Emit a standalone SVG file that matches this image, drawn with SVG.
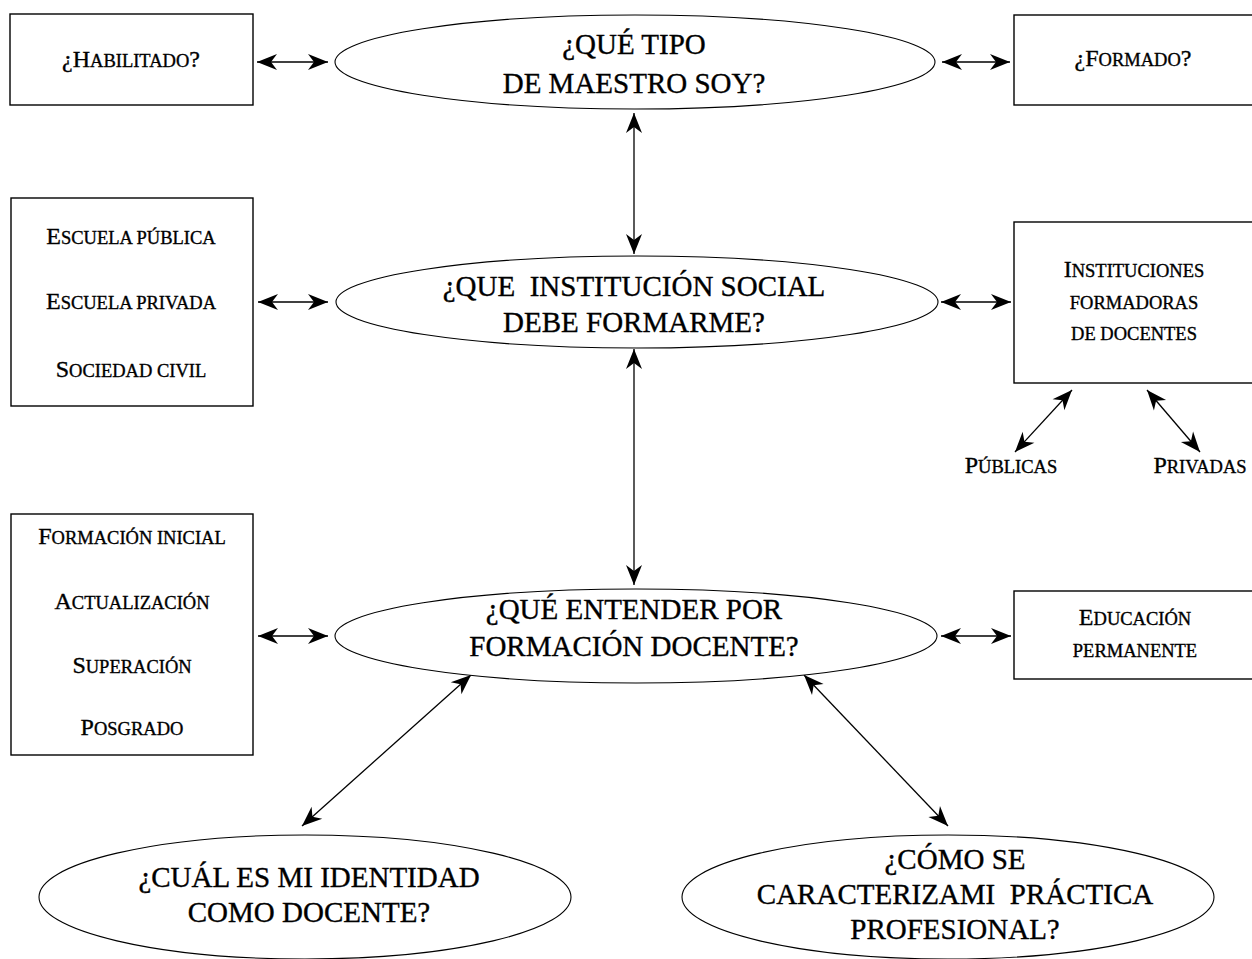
<svg xmlns="http://www.w3.org/2000/svg" width="1252" height="959" viewBox="0 0 1252 959">
<style>
text{font-family:"Liberation Serif","Times New Roman",serif;fill:#000;text-anchor:middle;white-space:pre;stroke:#000;stroke-width:0.35}
.q{font-size:29px}
.s{font-size:24px}
.s tspan.m{font-size:18.5px}
.box{fill:#fff;stroke:#000;stroke-width:1.4}
.ell{fill:#fff;stroke:#000;stroke-width:1.1}
.con line{stroke:#000;stroke-width:1.3;marker-start:url(#ah);marker-end:url(#ah)}
</style>
<defs>
<marker id="ah" viewBox="-21 -9 22 18" refX="0" refY="0" markerWidth="22" markerHeight="18" markerUnits="userSpaceOnUse" orient="auto-start-reverse">
<path d="M0,0 L-20,-8 L-14,0 L-20,8 Z" fill="#000"/>
</marker>
</defs>
<rect width="1252" height="959" fill="#fff"/>

<g class="con" id="connectors">
<line x1="257" y1="62" x2="328" y2="62"/>
<line x1="942" y1="62" x2="1010" y2="62"/>
<line x1="634" y1="113" x2="634" y2="254"/>
<line x1="258" y1="302" x2="328" y2="302"/>
<line x1="941" y1="302" x2="1011" y2="302"/>
<line x1="634" y1="349" x2="634" y2="585"/>
<line x1="1072" y1="390" x2="1015" y2="452"/>
<line x1="1147" y1="390" x2="1200" y2="452"/>
<line x1="258" y1="636" x2="328" y2="636"/>
<line x1="941" y1="636" x2="1011" y2="636"/>
<line x1="471" y1="675" x2="302" y2="826"/>
<line x1="804" y1="675" x2="948" y2="826"/>
</g>

<g id="habilitado">
<rect class="box" x="10" y="14" width="243" height="91"/>
<text class="s" x="131" y="67">¿H<tspan class="m">ABILITADO</tspan>?</text>
</g>

<g id="tipo-maestro">
<ellipse class="ell" cx="635" cy="62" rx="300" ry="47"/>
<text class="q" x="634" y="54">¿QUÉ TIPO</text>
<text class="q" x="634" y="93">DE MAESTRO SOY?</text>
</g>

<g id="formado">
<rect class="box" x="1014" y="15" width="250" height="90"/>
<text class="s" x="1133" y="66">¿F<tspan class="m">ORMADO</tspan>?</text>
</g>

<g id="escuelas">
<rect class="box" x="11" y="198" width="242" height="208"/>
<text class="s" x="131" y="244">E<tspan class="m">SCUELA PÚBLICA</tspan></text>
<text class="s" x="131" y="309">E<tspan class="m">SCUELA PRIVADA</tspan></text>
<text class="s" x="131" y="377">S<tspan class="m">OCIEDAD CIVIL</tspan></text>
</g>

<g id="institucion-social">
<ellipse class="ell" cx="637" cy="302" rx="301" ry="46"/>
<text class="q" x="634" y="296">¿QUE  INSTITUCIÓN SOCIAL</text>
<text class="q" x="634" y="332">DEBE FORMARME?</text>
</g>

<g id="instituciones-formadoras">
<rect class="box" x="1014" y="222" width="250" height="161"/>
<text class="s" x="1134" y="277">I<tspan class="m">NSTITUCIONES</tspan></text>
<text class="s" x="1134" y="309"><tspan class="m">FORMADORAS</tspan></text>
<text class="s" x="1134" y="340"><tspan class="m">DE DOCENTES</tspan></text>
</g>

<g id="publicas">
<text class="s" x="1011" y="473">P<tspan class="m">ÚBLICAS</tspan></text>
</g>
<g id="privadas">
<text class="s" x="1200" y="473">P<tspan class="m">RIVADAS</tspan></text>
</g>

<g id="modalidades">
<rect class="box" x="11" y="514" width="242" height="241"/>
<text class="s" x="132" y="544">F<tspan class="m">ORMACIÓN INICIAL</tspan></text>
<text class="s" x="132" y="609">A<tspan class="m">CTUALIZACIÓN</tspan></text>
<text class="s" x="132" y="673">S<tspan class="m">UPERACIÓN</tspan></text>
<text class="s" x="132" y="735">P<tspan class="m">OSGRADO</tspan></text>
</g>

<g id="formacion-docente">
<ellipse class="ell" cx="636" cy="636" rx="301" ry="47"/>
<text class="q" x="634" y="619">¿QUÉ ENTENDER POR</text>
<text class="q" x="634" y="656">FORMACIÓN DOCENTE?</text>
</g>

<g id="educacion-permanente">
<rect class="box" x="1014" y="591" width="250" height="88"/>
<text class="s" x="1135" y="625">E<tspan class="m">DUCACIÓN</tspan></text>
<text class="s" x="1135" y="657"><tspan class="m">PERMANENTE</tspan></text>
</g>

<g id="identidad">
<ellipse class="ell" cx="305" cy="897" rx="266" ry="62"/>
<text class="q" x="309" y="887">¿CUÁL ES MI IDENTIDAD</text>
<text class="q" x="309" y="922">COMO DOCENTE?</text>
</g>

<g id="practica">
<ellipse class="ell" cx="948" cy="897" rx="266" ry="62"/>
<text class="q" x="955" y="869">¿CÓMO SE</text>
<text class="q" x="955" y="904">CARACTERIZAMI  PRÁCTICA</text>
<text class="q" x="955" y="939">PROFESIONAL?</text>
</g>
</svg>
